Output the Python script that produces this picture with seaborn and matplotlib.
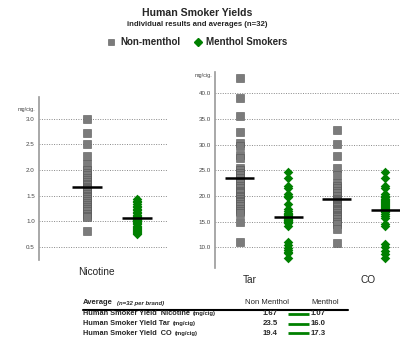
import numpy as np
import pandas as pd
import matplotlib
matplotlib.use('Agg')
import matplotlib.pyplot as plt
from matplotlib.lines import Line2D
import seaborn as sns

# individual brand results (mg/cig)
nic_non = [3.0, 2.72, 2.5, 2.28, 2.12, 2.0, 1.95, 1.9, 1.85, 1.8, 1.76, 1.72, 1.70, 1.68,
           1.66, 1.63, 1.60, 1.57, 1.54, 1.50, 1.47, 1.43, 1.40, 1.36, 1.32, 1.28, 1.24,
           1.20, 1.15, 1.10, 1.08, 0.82]
nic_men = [1.43, 1.40, 1.37, 1.34, 1.31, 1.28, 1.25, 1.22, 1.19, 1.16, 1.13, 1.11, 1.09,
           1.07, 1.06, 1.05, 1.04, 1.03, 1.02, 1.00, 0.98, 0.96, 0.94, 0.92, 0.90, 0.88,
           0.86, 0.84, 0.82, 0.80, 0.78, 0.75]
tar_non = [43.0, 39.0, 35.5, 32.5, 30.3, 29.8, 28.0, 27.5, 25.5, 25.0, 24.5, 24.0, 23.5,
           23.0, 22.5, 22.0, 21.5, 21.0, 20.8, 20.5, 20.0, 19.8, 19.5, 19.0, 18.8, 18.5,
           18.0, 17.5, 17.0, 16.8, 15.0, 11.0]
tar_men = [24.6, 23.6, 22.0, 21.6, 20.4, 20.1, 19.8, 18.4, 17.4, 17.0, 16.8, 16.6, 16.5,
           16.4, 16.2, 16.0, 15.9, 15.8, 15.6, 15.4, 15.3, 15.2, 15.0, 14.8, 14.2, 11.0,
           10.4, 9.8, 9.5, 9.2, 9.0, 8.0]
co_non = [32.8, 30.2, 27.7, 25.5, 24.0, 22.5, 22.0, 21.5, 21.0, 20.5, 20.0, 19.5, 19.2,
          19.0, 18.9, 18.7, 18.4, 18.2, 18.1, 17.8, 17.5, 17.2, 17.0, 16.8, 16.4, 16.2,
          16.0, 15.5, 15.0, 14.5, 13.5, 10.8]
co_men = [24.6, 23.6, 22.0, 21.6, 20.4, 20.1, 19.8, 19.9, 19.5, 19.3, 19.1, 18.9, 18.7,
          18.5, 18.3, 18.1, 17.9, 17.7, 17.5, 17.3, 17.1, 16.9, 16.5, 16.1, 15.7, 14.5,
          14.1, 10.6, 10.0, 9.4, 8.8, 8.0]

measures = ['Nicotine', 'Tar', 'CO']
avg_non = [1.67, 23.5, 19.4]
avg_men = [1.07, 16.0, 17.3]
avg_fmt = ['{:.2f}', '{:.1f}', '{:.1f}']
row_labels = ['Human Smoker Yield  Nicotine', 'Human Smoker Yield Tar', 'Human Smoker Yield  CO']

GRAY = '#7b7b7b'
GREEN = '#008000'


def long_df(names, lists, tag):
    rows = []
    for n, vals in zip(names, lists):
        for v in vals:
            rows.append((n + tag, v))
    return pd.DataFrame(rows, columns=['cat', 'val'])


def draw_panel(ax, names, non_lists, men_lists, a_non, a_men, ticks, fmt, lims, label_pos):
    order = []
    for n in names:
        order += [n + ' non', n + ' men']
    df_n = long_df(names, non_lists, ' non')
    df_m = long_df(names, men_lists, ' men')
    sns.stripplot(data=df_n, x='cat', y='val', order=order, jitter=False, marker='s',
                  size=5.3, color=GRAY, linewidth=0.4, edgecolor='#555555', ax=ax, zorder=3)
    sns.stripplot(data=df_m, x='cat', y='val', order=order, jitter=False, marker='D',
                  size=4.9, color=GREEN, linewidth=0, ax=ax, zorder=3)
    for i, (an, am) in enumerate(zip(a_non, a_men)):
        ax.hlines(an, 2 * i - 0.3, 2 * i + 0.3, color='black', lw=1.8, zorder=5)
        ax.hlines(am, 2 * i + 0.7, 2 * i + 1.3, color='black', lw=1.8, zorder=5)

    ax.set_ylim(*lims[1])
    ax.set_xlim(*lims[0])
    ax.set_yticks(ticks)
    ax.set_yticklabels([fmt.format(t) for t in ticks], fontsize=4.5, color='#444444')
    ax.set_xticks(label_pos)
    ax.set_xticklabels(names, fontsize=7.3)
    ax.tick_params(axis='y', length=0, pad=3)
    ax.tick_params(axis='x', length=0, pad=5)
    ax.set_xlabel('')
    ax.set_ylabel('')
    ax.yaxis.grid(True, linestyle=(0, (1, 1.5)), color='#888888', lw=0.7)
    ax.set_axisbelow(True)
    for s in ['top', 'right', 'bottom']:
        ax.spines[s].set_visible(False)
    ax.spines['left'].set_color('#999999')
    ax.spines['left'].set_linewidth(1.2)


sns.set_style('white')
plt.rcParams['font.family'] = ['Liberation Sans', 'DejaVu Sans']

fig = plt.figure(figsize=(4.01, 3.38), dpi=100)
ax1 = fig.add_axes([0.097, 0.231, 0.319, 0.483])
ax2 = fig.add_axes([0.536, 0.207, 0.461, 0.581])

draw_panel(ax1, ['Nicotine'], [nic_non], [nic_men], avg_non[:1], avg_men[:1],
           np.arange(0.5, 3.01, 0.5), '{:.1f}', ((-0.96, 1.6), (0.25, 3.43)), [0.2])
draw_panel(ax2, ['Tar', 'CO'], [tar_non, co_non], [tar_men, co_men], avg_non[1:], avg_men[1:],
           np.arange(10, 40.1, 5), '{:.1f}', ((-0.51, 3.3), (6.0, 44.2)), [0.2, 2.64])

ax1.text(-0.03, 0.923, 'mg/cig.', transform=ax1.transAxes, ha='right', va='center',
         fontsize=4, color='#444444')
ax2.text(-0.016, 0.98, 'mg/cig.', transform=ax2.transAxes, ha='right', va='center',
         fontsize=4, color='#444444')

fig.text(197 / 401, 1 - 12.7 / 338, 'Human Smoker Yields', ha='center', va='center',
         fontsize=7.6, fontweight='bold')
fig.text(197 / 401, 1 - 24 / 338, 'individual results and averages (n=32)', ha='center',
         va='center', fontsize=5.6, fontweight='bold')

handles = [Line2D([], [], marker='s', ls='', color=GRAY, markeredgecolor='#555555',
                  markeredgewidth=0.4, markersize=5),
           Line2D([], [], marker='D', ls='', color=GREEN, markersize=4)]
fig.legend(handles, ['Non-menthol', 'Menthol Smokers'], loc='center',
           bbox_to_anchor=(197 / 401, 1 - 42 / 338), ncol=2, frameon=False,
           prop={'weight': 'bold', 'size': 7}, handletextpad=0.4, columnspacing=1.3,
           handlelength=1.0)

# averages table under the chart
tab = fig.add_axes([0, 0, 1, 1], facecolor='none')
tab.axis('off')
tab.set_xlim(0, 1)
tab.set_ylim(0, 1)
hy = 1 - 302.7 / 338
tab.text(0.207, hy, 'Average', fontsize=5.5, fontweight='bold', va='center')
tab.text(0.292, hy - 0.002, '(n=32 per brand)', fontsize=4.3, fontweight='bold',
         style='italic', va='center')
tab.text(0.667, hy, 'Non Menthol', fontsize=5.6, ha='center', va='center')
tab.text(0.811, hy, 'Menthol', fontsize=5.6, ha='center', va='center')
tab.plot([0.207, 0.868], [1 - 310 / 338] * 2, color='black', lw=1.5)

row_y = [1 - 313.8 / 338, 1 - 323.6 / 338, 1 - 333.2 / 338]
for lab, y, an, am, f in zip(row_labels, row_y, avg_non, avg_men, avg_fmt):
    t = tab.text(0.207, y, lab, fontsize=5.3, fontweight='bold', va='center')
    tab.annotate('(mg/cig)', xy=(1, 0.5), xycoords=t, xytext=(2, 0),
                 textcoords='offset points', fontsize=4.2, fontweight='bold', va='center')
    tab.text(0.673, y, f.format(an), fontsize=5.6, fontweight='bold', ha='center', va='center')
    tab.text(0.793, y, f.format(am), fontsize=5.6, fontweight='bold', ha='center', va='center')
    tab.plot([0.7175, 0.770], [y, y], color=GREEN, lw=2.0, solid_capstyle='butt')

fig.savefig('out.png', dpi=100)
